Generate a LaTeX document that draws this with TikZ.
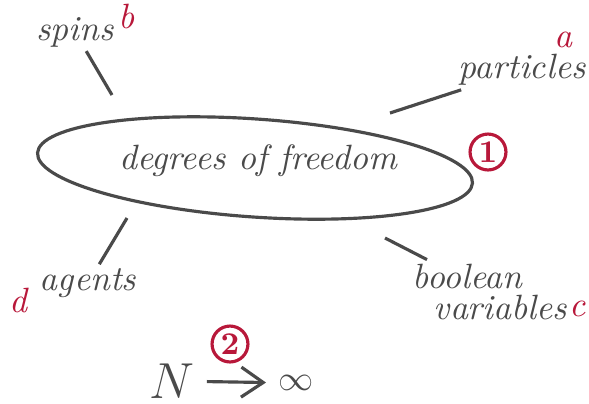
\documentclass[tikz,border=0pt]{standalone}
\usepackage{xcolor}
\usepackage{tikz}
\usetikzlibrary{arrows.meta,positioning,shapes.geometric}
\definecolor{dpencil}{HTML}{4A4A4A}
\definecolor{dred}{HTML}{B8183A}
\tikzset{
  >={Straight Barb[length=2.2mm, width=3mm]},
  dfree/.style={ellipse, draw=dpencil, line width=0.9pt, minimum width=4.36cm,
                minimum height=0.98cm, inner sep=0pt},
  dterm/.style={dpencil, font=\normalsize\itshape, align=left, inner sep=1pt},
  dtag/.style={dred, font=\normalsize\itshape},
  dnum/.style={circle, draw=dred, text=dred, line width=0.9pt, inner sep=0.8pt,
               font=\small\bfseries},
  dlink/.style={dpencil, line width=0.9pt},
}

\begin{document}
\begin{tikzpicture}[x=1cm,y=1cm]
  \useasboundingbox (0,0) rectangle (5.89,4.03);

  % central notion
  \node[dfree, rotate=-4] (dof) at (2.55,2.35) {};
  \node[dterm] (doftext) at (2.58,2.42) {degrees of freedom};
  \node[dnum] (one) at (4.88,2.51) {1};

  % examples
  \node[dterm] (spins) at (0.75,3.71) {spins};
  \node[dterm] (particles) at (5.22,3.33) {particles};
  \node[dterm] (agents) at (0.88,1.20) {agents};
  \node[dterm] (boolean) at (4.90,1.11) {boolean\\[-3pt]\hspace*{6pt}variables};

  % letters
  \node[dtag] (tb) at (1.27,3.87) {b};
  \node[dtag] (ta) at (5.63,3.63) {a};
  \node[dtag] (td) at (0.18,1.03) {d};
  \node[dtag] (tc) at (5.78,0.94) {c};

  % ends of the strokes near the ellipse
  \coordinate (espins) at (1.12,3.08);
  \coordinate (eparticles) at (3.90,2.90);
  \coordinate (eagents) at (1.27,1.85);
  \coordinate (eboolean) at (3.85,1.65);

  \draw[dlink] (spins) -- (espins);
  \draw[dlink] (particles) -- (eparticles);
  \draw[dlink] (agents) -- (eagents);
  \draw[dlink] (boolean) -- (eboolean);

  % limit
  \node[dnum] (two) at (2.30,0.59) {2};
  \node[dpencil, font=\Large] (N) at (1.72,0.22) {$N$};
  \node[dpencil] (inf) at (2.96,0.20) {$\infty$};
  \draw[dlink, ->] (N) -- (inf);

\end{tikzpicture}
\end{document}
